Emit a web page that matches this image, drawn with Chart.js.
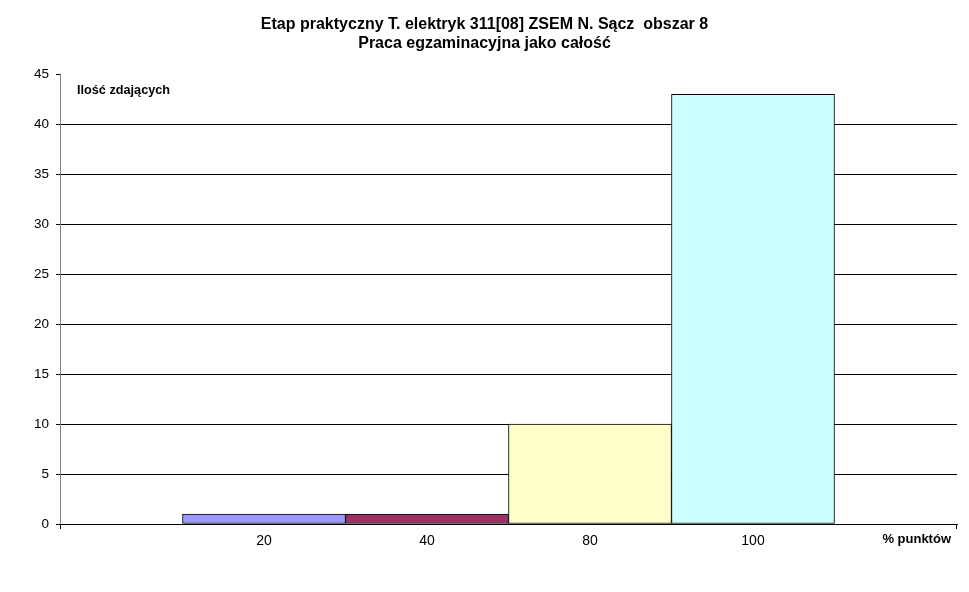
<!DOCTYPE html>
<html>
<head>
<meta charset="utf-8">
<script src="https://cdn.jsdelivr.net/npm/chart.js@4.4.1/dist/chart.umd.min.js"></script>
<style>
html,body{margin:0;padding:0;background:#fff;}
#wrap{width:969px;height:592px;position:relative;}
</style>
</head>
<body>
<div id="wrap"><canvas id="c" width="969" height="592"></canvas></div>
<script>
const titleLines = ['Etap praktyczny T. elektryk 311[08] ZSEM N. Sącz  obszar 8', 'Praca egzaminacyjna jako całość'];
const categories = ['20', '40', '80', '100'];
const counts = [1, 1, 10, 43];
const barColors = ['#9999FF', '#993366', '#FFFFCC', '#CCFFFF'];
const yTicks = [0, 5, 10, 15, 20, 25, 30, 35, 40, 45];
const yAxisLabel = 'Ilość zdających';
const xAxisLabel = '% punktów';

const FONT = 'Arial, "Liberation Sans", sans-serif';

const points = categories.map((c, i) => ({x: i + 1, y: counts[i]}));

const annotate = {
  id: 'annotate',
  afterDraw(chart) {
    const {ctx, chartArea: a} = chart;
    ctx.save();
    ctx.fillStyle = '#000';
    ctx.font = 'bold 12.7px ' + FONT;
    ctx.textBaseline = 'middle';
    ctx.textAlign = 'left';
    ctx.fillText(yAxisLabel, a.left + 17, a.top + 16);
    ctx.font = 'bold 13px ' + FONT;
    ctx.textAlign = 'right';
    ctx.fillText(xAxisLabel, a.right - 6, a.bottom + 15);
    // end tick marks of the category axis
    ctx.strokeStyle = '#000';
    ctx.lineWidth = 1;
    ctx.beginPath();
    ctx.moveTo(Math.round(a.left) + 0.5, a.bottom);
    ctx.lineTo(Math.round(a.left) + 0.5, a.bottom + 5);
    ctx.moveTo(Math.round(a.right) - 0.5, a.bottom);
    ctx.lineTo(Math.round(a.right) - 0.5, a.bottom + 5);
    ctx.stroke();
    ctx.restore();
  }
};

new Chart(document.getElementById('c'), {
  type: 'bar',
  data: {
    datasets: [{
      data: points,
      backgroundColor: barColors,
      borderColor: '#000',
      borderWidth: 1,
      borderSkipped: false,
      barPercentage: 1,
      categoryPercentage: 1
    }]
  },
  options: {
    responsive: false,
    animation: false,
    events: [],
    layout: {padding: {left: 12, right: 12, top: 0, bottom: 0}},
    plugins: {
      legend: {display: false},
      tooltip: {enabled: false},
      title: {
        display: true,
        text: titleLines,
        color: '#000',
        font: {family: FONT, size: 16, weight: 'bold', lineHeight: 1.2},
        padding: {top: 15, bottom: 21}
      }
    },
    scales: {
      x: {
        type: 'linear',
        offset: false,
        min: -0.2515,
        max: 5.2515,
        afterBuildTicks(scale) {
          scale.ticks = categories.map((c, i) => ({value: i + 1}));
        },
        afterFit(scale) { scale.height = 68; },
        grid: {display: false, drawTicks: false, offset: false},
        border: {display: true, color: '#000', width: 1},
        ticks: {
          padding: 9,
          color: '#000',
          font: {family: FONT, size: 14},
          autoSkip: false,
          maxRotation: 0,
          callback: (v) => categories[Math.round(v) - 1] || ''
        }
      },
      y: {
        min: 0,
        max: 45,
        afterBuildTicks(scale) {
          scale.ticks = yTicks.map(v => ({value: v}));
        },
        afterFit(scale) { scale.width = 48; },
        grid: {
          color: (c) => (c.tick && (c.tick.value === 45 || c.tick.value === 0)) ? 'rgba(0,0,0,0)' : '#000',
          tickColor: '#000',
          tickLength: 4,
          lineWidth: 1
        },
        border: {display: true, color: '#808080', width: 1},
        ticks: {
          padding: 7,
          color: '#000',
          font: {family: FONT, size: 13.5}
        }
      }
    }
  },
  plugins: [annotate]
});
</script>
</body>
</html>
